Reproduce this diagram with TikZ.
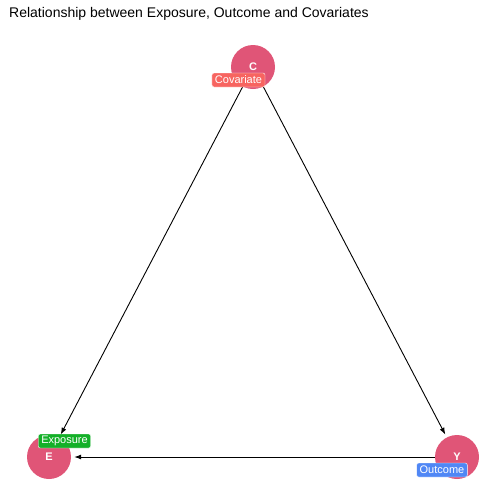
\documentclass[tikz,border=0pt]{standalone}
\usepackage{fontspec}
\setmainfont{Liberation Sans}
\usetikzlibrary{arrows.meta,positioning,calc}
\definecolor{dagNode}{HTML}{E05577}
\definecolor{covRed}{HTML}{F76460}
\definecolor{expGreen}{HTML}{14B028}
\definecolor{outBlue}{HTML}{5087F5}
\tikzstyle{dagVertex}=[circle,fill=dagNode,minimum size=44pt,inner sep=0pt,text=white,font=\fontsize{11}{11}\selectfont\bfseries]
\tikzstyle{roleLabel}=[draw=white,line width=0.4pt,rounded corners=2pt,text=white,inner xsep=3pt,minimum height=14pt,inner ysep=0pt,font=\fontsize{11}{11}\selectfont]
\tikzstyle{dagEdge}=[draw,line width=0.9pt,-{Latex[length=7pt,width=5pt]},shorten >=3pt]

\begin{document}
\begin{tikzpicture}[x=1pt,y=-1pt]
      \useasboundingbox (0,0) rectangle (504,504);
      \node [anchor=base west,inner sep=0pt,font=\fontsize{14}{14}\selectfont] (title) at (9,17.5) {Relationship between Exposure, Outcome and Covariates};
      % vertices
      \node [dagVertex] (C) at (253,67) {C};
      \node [dagVertex] (E) at (49,457) {E};
      \node [dagVertex] (Y) at (457,457) {Y};
      % edges
      \path [dagEdge] (C) -- (E);
      \path [dagEdge] (C) -- (Y);
      \path [dagEdge] (Y) -- (E);
      % labels
      \node [roleLabel,fill=covRed] (covLab) at (238.5,80) {Covariate};
      \node [roleLabel,fill=expGreen] (expLab) at (64.5,441) {Exposure};
      \node [roleLabel,fill=outBlue] (outLab) at (442,470) {Outcome};
    \end{tikzpicture}
\end{document}
